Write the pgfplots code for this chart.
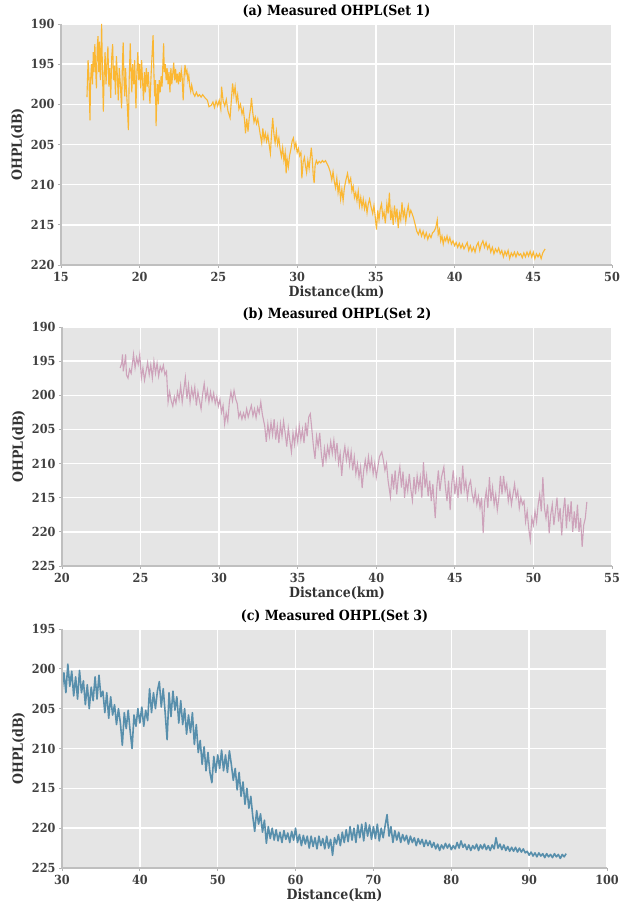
\documentclass[border=0pt]{standalone}
\usepackage{fontspec}
\setmainfont{DejaVu Serif Condensed}
\usepackage{pgfplots}
\pgfplotsset{compat=1.18}

\definecolor{setA}{RGB}{251,183,50}
\definecolor{setB}{RGB}{205,162,186}
\definecolor{setC}{RGB}{88,143,172}
\definecolor{tickgray}{RGB}{64,64,64}

\pgfplotsset{ohpl/.style={
  scale only axis, anchor=south west,
  y dir=reverse,
  axis background/.style={fill=gray!20},
  grid=major, major grid style={white, line width=1.5pt},
  axis line style={draw=none},
  tick align=outside, major tick length=3pt,
  tick style={gray!60, line width=0.8pt},
  xtick pos=left, ytick pos=left,
  /pgf/number format/assume math mode=true,
  /pgf/number format/1000 sep={},
  ticklabel style={font=\bfseries\fontsize{12.5}{14}\selectfont, text=tickgray},
  xticklabel style={yshift=-1pt},
  label style={font=\bfseries\fontsize{14}{16}\selectfont, text=black!80},
  xlabel style={yshift=3pt},
  title style={font=\bfseries\fontsize{14}{16}\selectfont, yshift=-3pt},
  xlabel={Distance(km)}, ylabel={OHPL(dB)},
  after end axis/.code={
    \draw[gray!50, line width=1.5pt] (axis description cs:0,1) -- (axis description cs:0,0) -- (axis description cs:1,0);
  },
}}

\begin{document}
\begin{tikzpicture}
\useasboundingbox (0,0) rectangle (630pt,909pt);

% (a)
\begin{axis}[ohpl, at={(61pt,644pt)}, width=551pt, height=241pt,
  title={(a) Measured OHPL(Set 1)},
  xmin=15, xmax=50, ymin=190, ymax=220,
  xtick={15,20,...,50}, ytick={190,195,...,220}]
\addplot[setA, line width=1.1pt] coordinates {
(16.65,199.1)(16.72,194.5)(16.78,196.8)(16.84,202.0)(16.88,197.0)(16.94,195.0)(17.00,197.5)(17.05,193.5)
(17.10,196.0)(17.15,192.5)(17.20,195.5)(17.25,198.0)(17.30,193.0)(17.35,191.5)(17.40,196.0)(17.45,192.2)
(17.50,197.0)(17.55,194.0)(17.58,190.0)(17.63,195.5)(17.69,200.9)(17.74,196.5)(17.80,193.5)(17.86,197.5)
(17.92,195.0)(17.98,192.8)(18.04,197.8)(18.10,195.5)(18.16,199.2)(18.22,194.2)(18.28,192.5)(18.34,197.0)
(18.40,195.2)(18.46,198.8)(18.52,194.0)(18.58,196.5)(18.64,199.5)(18.70,195.5)(18.76,197.2)(18.85,200.5)
(18.90,195.0)(18.95,192.3)(19.00,196.8)(19.05,199.0)(19.10,195.5)(19.15,198.0)(19.22,200.5)(19.28,203.2)
(19.33,197.0)(19.40,192.4)(19.45,196.0)(19.50,198.5)(19.55,195.0)(19.62,197.5)(19.68,194.5)(19.76,200.5)
(19.82,196.0)(19.88,193.5)(19.94,197.0)(20.00,195.0)(20.06,198.0)(20.12,194.5)(20.18,197.0)(20.24,199.5)
(20.30,196.0)(20.36,198.5)(20.42,195.5)(20.48,197.8)(20.54,196.0)(20.60,198.2)(20.65,199.9)(20.72,196.5)
(20.78,194.0)(20.85,191.4)(20.90,196.0)(20.95,199.0)(21.00,197.0)(21.04,202.7)(21.08,199.5)(21.13,197.5)
(21.18,200.0)(21.24,197.0)(21.30,198.5)(21.36,196.5)(21.42,197.8)(21.48,194.5)(21.52,192.4)(21.56,196.0)
(21.62,195.0)(21.68,197.0)(21.74,195.5)(21.80,197.5)(21.86,196.0)(21.92,198.5)(21.98,195.5)(22.04,197.5)
(22.10,196.2)(22.16,194.8)(22.22,197.0)(22.28,195.6)(22.34,197.3)(22.40,196.2)(22.46,197.5)(22.52,196.0)
(22.58,197.2)(22.64,195.8)(22.70,196.8)(22.76,199.5)(22.82,196.5)(22.88,195.1)(22.94,196.2)(23.00,195.8)
(23.06,197.0)(23.12,196.4)(23.18,197.8)(23.24,198.4)(23.30,197.6)(23.40,198.6)(23.50,199.0)(23.60,198.5)
(23.70,199.0)(23.80,198.8)(23.90,199.1)(24.00,198.8)(24.15,199.2)(24.30,199.5)(24.40,200.3)(24.55,200.1)
(24.65,199.7)(24.75,200.4)(24.85,199.6)(24.95,200.2)(25.05,199.5)(25.15,200.6)(25.20,197.8)(25.30,199.6)
(25.40,200.2)(25.50,199.4)(25.60,200.8)(25.74,201.7)(25.82,199.5)(25.90,197.4)(25.98,198.8)(26.06,197.8)
(26.14,199.6)(26.22,198.8)(26.30,200.6)(26.40,200.0)(26.50,201.2)(26.58,200.6)(26.66,202.0)(26.72,203.6)
(26.80,201.8)(26.88,203.4)(26.96,201.6)(27.04,200.5)(27.10,199.2)(27.18,201.0)(27.26,202.2)(27.34,201.6)
(27.42,202.4)(27.50,201.8)(27.58,202.8)(27.66,203.8)(27.75,204.8)(27.82,203.0)(27.90,204.4)(27.98,203.6)
(28.06,204.6)(28.14,203.8)(28.22,205.0)(28.30,206.1)(28.38,203.5)(28.45,201.7)(28.52,203.6)(28.60,204.8)
(28.68,203.4)(28.76,205.0)(28.84,204.2)(28.92,205.6)(29.00,206.5)(29.08,205.4)(29.16,207.0)(29.24,206.0)
(29.30,208.6)(29.36,206.8)(29.44,207.8)(29.52,206.4)(29.60,205.6)(29.68,204.6)(29.76,204.2)(29.84,205.4)
(29.92,204.8)(30.00,206.0)(30.08,205.5)(30.16,206.4)(30.24,206.0)(30.30,209.2)(30.38,207.2)(30.46,206.6)
(30.54,207.8)(30.60,208.5)(30.68,207.0)(30.76,208.0)(30.84,206.5)(30.90,205.4)(30.96,206.8)(31.02,208.8)
(31.08,209.8)(31.14,207.6)(31.22,207.0)(31.30,207.4)(31.40,207.1)(31.50,207.3)(31.60,207.0)(31.70,207.2)
(31.80,207.0)(31.90,207.4)(32.00,207.8)(32.10,208.4)(32.20,209.4)(32.28,208.4)(32.36,209.6)(32.44,210.4)
(32.52,209.2)(32.60,211.0)(32.68,210.0)(32.76,211.8)(32.84,210.6)(32.92,212.0)(33.00,210.4)(33.10,209.4)
(33.20,208.6)(33.30,209.8)(33.40,209.2)(33.48,210.8)(33.56,210.2)(33.64,211.6)(33.72,211.0)(33.80,212.0)
(33.88,210.8)(33.96,212.6)(34.04,211.6)(34.12,212.8)(34.20,211.8)(34.28,213.0)(34.36,212.2)(34.44,213.5)
(34.52,212.4)(34.60,211.8)(34.70,212.8)(34.80,213.6)(34.88,212.6)(34.96,214.0)(35.04,215.6)(35.12,213.2)
(35.20,214.4)(35.28,213.0)(35.36,212.4)(35.44,214.0)(35.52,213.4)(35.60,214.8)(35.70,212.4)(35.78,213.6)
(35.86,211.0)(35.94,214.4)(36.02,213.2)(36.10,215.0)(36.18,212.6)(36.26,214.2)(36.34,213.0)(36.42,215.4)
(36.50,213.6)(36.58,214.4)(36.66,212.2)(36.74,214.0)(36.82,213.2)(36.90,214.6)(36.98,213.4)(37.06,212.6)
(37.14,213.8)(37.22,213.2)(37.30,213.6)(37.40,214.2)(37.50,215.0)(37.60,215.8)(37.70,216.2)(37.80,215.6)
(37.90,216.4)(38.00,215.8)(38.10,216.6)(38.20,216.0)(38.30,216.8)(38.40,216.2)(38.50,216.6)(38.60,216.0)
(38.70,215.8)(38.80,215.4)(38.90,214.4)(38.96,216.2)(39.04,215.6)(39.12,217.0)(39.20,216.4)(39.28,217.4)
(39.36,216.6)(39.44,217.0)(39.52,216.4)(39.60,217.2)(39.70,216.6)(39.80,217.4)(39.90,217.0)(40.00,217.6)
(40.10,217.2)(40.20,217.8)(40.30,217.3)(40.40,217.9)(40.50,217.4)(40.60,218.0)(40.70,217.6)(40.80,217.2)
(40.90,218.2)(41.00,217.6)(41.10,218.3)(41.20,217.8)(41.30,218.4)(41.40,217.6)(41.50,217.2)(41.60,218.2)
(41.70,217.4)(41.80,217.0)(41.90,217.8)(42.00,217.2)(42.10,218.0)(42.20,217.5)(42.30,218.4)(42.40,217.8)
(42.50,218.6)(42.60,218.0)(42.70,218.4)(42.80,217.9)(42.90,218.6)(43.00,218.2)(43.10,219.0)(43.20,218.3)
(43.30,218.8)(43.40,218.2)(43.50,219.2)(43.60,218.5)(43.70,218.9)(43.80,218.4)(43.90,219.0)(44.00,218.4)
(44.10,218.8)(44.20,218.6)(44.30,219.1)(44.40,218.5)(44.50,219.0)(44.60,218.4)(44.70,218.9)(44.80,218.3)
(44.90,219.0)(45.00,218.4)(45.10,219.2)(45.20,218.6)(45.30,219.0)(45.40,218.6)(45.50,219.2)(45.60,218.5)
(45.75,218.0)};
\end{axis}

% (b)
\begin{axis}[ohpl, at={(62pt,343pt)}, width=550pt, height=239pt,
  title={(b) Measured OHPL(Set 2)},
  xmin=20, xmax=55, ymin=190, ymax=225,
  xtick={20,25,...,55}, ytick={190,195,...,225}]
\addplot[setB, line width=1.1pt] coordinates {
(23.70,196.0)(23.80,195.3)(23.85,194.0)(23.90,196.5)(24.00,195.0)(24.05,194.0)(24.10,197.0)(24.20,197.5)
(24.30,196.2)(24.40,196.8)(24.50,195.0)(24.55,194.0)(24.65,196.0)(24.75,194.5)(24.85,195.5)(24.95,194.0)
(25.05,197.5)(25.15,196.0)(25.25,197.8)(25.35,196.5)(25.45,195.2)(25.55,197.0)(25.65,195.5)(25.75,197.5)
(25.85,195.0)(25.95,196.8)(26.05,195.3)(26.15,197.2)(26.25,195.8)(26.35,196.5)(26.45,195.6)(26.55,197.0)
(26.65,196.5)(26.75,201.0)(26.85,199.5)(26.95,200.8)(27.05,201.6)(27.15,200.2)(27.25,201.2)(27.35,199.5)
(27.45,200.6)(27.55,198.6)(27.65,201.0)(27.75,199.2)(27.85,197.4)(27.95,200.5)(28.05,198.5)(28.15,201.0)
(28.25,199.0)(28.35,200.3)(28.45,198.8)(28.55,201.5)(28.65,199.5)(28.75,200.8)(28.85,202.0)(28.95,199.8)
(29.05,198.3)(29.15,200.5)(29.25,199.2)(29.35,201.0)(29.45,199.5)(29.55,200.8)(29.65,199.7)(29.75,201.2)
(29.85,200.2)(29.95,201.6)(30.05,200.6)(30.15,202.5)(30.25,201.5)(30.35,204.2)(30.45,202.6)(30.55,203.8)
(30.65,201.0)(30.75,199.5)(30.85,200.8)(30.95,199.3)(31.05,200.5)(31.15,201.2)(31.25,203.2)(31.35,202.5)
(31.45,203.5)(31.55,202.6)(31.65,203.4)(31.75,202.0)(31.85,203.2)(31.95,202.3)(32.05,201.5)(32.15,203.0)
(32.25,202.0)(32.35,203.3)(32.45,201.8)(32.55,202.6)(32.65,201.0)(32.75,202.8)(32.90,204.5)(33.00,206.8)
(33.10,204.2)(33.20,206.0)(33.30,204.0)(33.40,205.8)(33.50,203.5)(33.60,206.5)(33.70,204.5)(33.80,207.0)
(33.90,204.2)(34.00,206.0)(34.10,203.8)(34.20,205.5)(34.30,207.5)(34.40,204.8)(34.50,206.6)(34.60,208.3)
(34.70,205.5)(34.80,207.2)(34.90,205.0)(35.00,206.8)(35.10,204.5)(35.20,206.5)(35.30,205.0)(35.40,207.0)
(35.50,204.0)(35.60,206.0)(35.70,203.2)(35.80,202.7)(35.90,205.0)(36.00,207.5)(36.10,209.3)(36.20,206.0)
(36.30,207.5)(36.40,205.5)(36.50,208.5)(36.60,210.5)(36.70,207.8)(36.80,209.5)(36.90,207.5)(37.00,208.8)
(37.10,206.8)(37.20,208.5)(37.30,206.6)(37.40,209.0)(37.50,207.0)(37.60,210.0)(37.70,208.5)(37.80,211.8)
(37.90,209.0)(38.00,207.5)(38.10,209.5)(38.20,208.0)(38.30,210.2)(38.40,208.3)(38.50,211.0)(38.60,209.0)
(38.70,211.5)(38.80,210.0)(38.90,212.0)(39.00,210.5)(39.10,213.6)(39.20,211.0)(39.30,209.5)(39.40,211.2)
(39.50,209.0)(39.60,210.8)(39.70,209.3)(39.80,211.5)(39.90,210.0)(40.00,212.0)(40.10,210.5)(40.20,209.0)
(40.35,208.3)(40.45,209.5)(40.55,211.0)(40.65,210.0)(40.75,212.5)(40.90,214.9)(41.00,211.5)(41.10,213.8)
(41.20,211.0)(41.30,214.5)(41.40,212.0)(41.50,210.5)(41.60,213.5)(41.70,211.2)(41.80,215.0)(41.90,212.5)
(42.00,214.0)(42.10,211.5)(42.20,213.8)(42.30,215.4)(42.40,212.0)(42.50,214.5)(42.60,211.8)(42.70,213.6)
(42.80,212.0)(42.90,215.0)(43.00,209.8)(43.10,213.5)(43.20,211.8)(43.30,214.8)(43.40,212.5)(43.50,215.5)
(43.60,213.0)(43.75,218.0)(43.85,213.5)(43.95,211.0)(44.05,214.0)(44.15,212.0)(44.30,210.5)(44.40,213.5)
(44.50,215.5)(44.60,212.5)(44.70,216.8)(44.80,213.0)(44.90,211.0)(45.00,214.5)(45.10,212.5)(45.20,215.0)
(45.30,212.0)(45.40,214.5)(45.50,210.3)(45.60,213.8)(45.70,212.5)(45.80,215.0)(45.90,213.2)(46.00,212.5)
(46.10,214.5)(46.20,215.5)(46.30,214.0)(46.40,216.0)(46.50,214.8)(46.60,216.5)(46.70,215.0)(46.80,220.2)
(46.90,215.5)(47.00,214.0)(47.10,216.5)(47.20,212.0)(47.30,215.5)(47.40,213.5)(47.50,216.0)(47.60,214.5)
(47.70,216.8)(47.80,215.0)(47.90,211.8)(48.00,214.5)(48.10,211.8)(48.20,214.0)(48.30,213.0)(48.40,215.5)
(48.50,214.0)(48.60,216.0)(48.70,214.5)(48.80,213.0)(48.90,215.0)(49.00,214.0)(49.10,216.5)(49.20,215.0)
(49.30,216.0)(49.40,215.5)(49.50,218.5)(49.60,217.0)(49.70,219.5)(49.80,221.2)(49.90,218.0)(50.00,219.0)
(50.10,217.0)(50.20,218.5)(50.30,216.0)(50.40,214.5)(50.50,217.0)(50.60,212.0)(50.70,216.5)(50.80,218.0)
(50.90,216.0)(51.00,220.2)(51.10,217.5)(51.20,216.0)(51.30,219.0)(51.40,217.0)(51.50,215.0)(51.60,218.5)
(51.70,216.5)(51.80,220.5)(51.90,217.0)(52.00,215.0)(52.10,219.5)(52.20,216.0)(52.30,218.5)(52.40,215.5)
(52.50,220.0)(52.60,217.0)(52.70,219.5)(52.80,216.0)(52.90,220.0)(53.00,218.0)(53.10,222.2)(53.20,219.0)
(53.30,218.0)(53.40,215.6)};
\end{axis}

% (c)
\begin{axis}[ohpl, at={(62pt,41pt)}, width=545pt, height=239pt,
  title={(c) Measured OHPL(Set 3)},
  xmin=30, xmax=100, ymin=195, ymax=225,
  xtick={30,40,...,100}, ytick={195,200,...,225}]
\addplot[setC, line width=1.6pt, line join=round] coordinates {
(30.00,202.8)(30.25,200.5)(30.50,203.0)(30.75,199.4)(31.00,202.2)(31.25,200.3)(31.50,203.4)(31.75,201.0)
(32.00,203.8)(32.25,200.2)(32.50,203.0)(32.75,201.5)(33.00,204.5)(33.25,202.0)(33.50,205.0)(33.75,202.3)
(34.00,204.0)(34.25,201.0)(34.50,203.8)(34.75,200.8)(35.00,203.5)(35.25,202.8)(35.50,205.5)(35.75,203.0)
(36.00,206.2)(36.25,203.5)(36.50,205.8)(36.75,204.5)(37.00,207.0)(37.25,205.0)(37.50,206.8)(37.75,209.6)
(38.00,205.5)(38.25,207.5)(38.50,205.2)(38.75,207.8)(39.00,210.0)(39.25,205.8)(39.50,207.2)(39.75,205.0)
(40.00,206.8)(40.25,204.8)(40.50,207.2)(40.75,205.2)(41.00,206.5)(41.25,202.5)(41.50,205.5)(41.75,203.0)
(42.00,205.0)(42.25,202.8)(42.50,201.6)(42.75,204.8)(43.00,202.5)(43.25,205.5)(43.50,208.9)(43.75,203.0)
(44.00,206.0)(44.25,202.8)(44.50,205.2)(44.75,203.5)(45.00,206.8)(45.25,204.0)(45.50,207.0)(45.75,205.0)
(46.00,208.2)(46.25,205.8)(46.50,208.0)(46.75,205.5)(47.00,209.5)(47.25,207.0)(47.50,210.5)(47.75,209.0)
(48.00,212.0)(48.25,209.8)(48.50,212.8)(48.75,210.5)(49.00,213.0)(49.25,214.3)(49.50,211.0)(49.75,213.0)
(50.00,210.8)(50.25,212.5)(50.50,210.2)(50.75,212.8)(51.00,210.8)(51.25,213.0)(51.50,210.3)(51.75,212.0)
(52.00,214.0)(52.25,212.5)(52.50,215.2)(52.75,213.0)(53.00,216.0)(53.25,214.2)(53.50,217.0)(53.75,215.0)
(54.00,217.5)(54.25,216.0)(54.50,218.5)(54.75,220.4)(55.00,217.8)(55.25,219.5)(55.50,218.2)(55.75,220.5)
(56.00,219.0)(56.25,221.9)(56.50,219.8)(56.75,221.3)(57.00,220.0)(57.25,221.5)(57.50,220.2)(57.75,221.6)
(58.00,220.5)(58.25,221.8)(58.50,220.3)(58.75,221.4)(59.00,220.6)(59.25,221.8)(59.50,220.4)(59.75,221.5)
(60.00,220.0)(60.25,221.8)(60.50,220.8)(60.75,222.2)(61.00,220.9)(61.25,222.0)(61.50,221.0)(61.75,222.5)
(62.00,221.0)(62.25,222.3)(62.50,221.2)(62.75,222.6)(63.00,221.0)(63.25,222.2)(63.50,221.3)(63.75,222.6)
(64.00,221.0)(64.25,222.5)(64.50,221.4)(64.75,223.4)(65.00,221.2)(65.25,222.0)(65.50,220.8)(65.75,222.2)
(66.00,220.5)(66.25,221.8)(66.50,220.2)(66.75,221.7)(67.00,219.8)(67.25,221.5)(67.50,220.0)(67.75,221.8)
(68.00,219.6)(68.25,221.2)(68.50,219.5)(68.75,221.6)(69.00,219.3)(69.25,221.0)(69.50,219.6)(69.75,221.4)
(70.00,219.8)(70.25,221.3)(70.50,219.5)(70.75,221.6)(71.00,220.0)(71.25,221.2)(71.50,219.7)(71.75,218.3)
(72.00,221.0)(72.25,219.8)(72.50,221.8)(72.75,220.3)(73.00,221.5)(73.25,220.5)(73.50,221.8)(73.75,220.8)
(74.00,221.6)(74.25,220.9)(74.50,222.0)(74.75,221.0)(75.00,221.8)(75.25,221.2)(75.50,222.2)(75.75,221.3)
(76.00,222.0)(76.25,221.4)(76.50,222.3)(76.75,221.5)(77.00,222.2)(77.25,221.6)(77.50,222.4)(77.75,221.8)
(78.00,222.6)(78.25,222.0)(78.50,222.8)(78.75,222.1)(79.00,222.6)(79.25,221.9)(79.50,222.5)(79.75,222.0)
(80.00,222.7)(80.25,222.2)(80.50,222.6)(80.75,221.8)(81.00,222.5)(81.25,221.6)(81.50,222.4)(81.75,222.0)
(82.00,222.7)(82.25,222.1)(82.50,222.8)(82.75,222.2)(83.00,222.6)(83.25,222.0)(83.50,222.8)(83.75,222.1)
(84.00,222.6)(84.25,222.0)(84.50,222.7)(84.75,222.2)(85.00,222.8)(85.25,222.1)(85.50,222.6)(85.75,221.2)
(86.00,222.5)(86.25,222.0)(86.50,222.7)(86.75,222.1)(87.00,222.8)(87.25,222.3)(87.50,222.9)(87.75,222.4)
(88.00,222.9)(88.25,222.4)(88.50,223.0)(88.75,222.5)(89.00,223.0)(89.25,222.6)(89.50,223.1)(89.75,222.9)
(90.00,223.4)(90.25,223.0)(90.50,223.5)(90.75,223.1)(91.00,223.6)(91.25,223.1)(91.50,223.5)(91.75,223.2)
(92.00,223.7)(92.25,223.2)(92.50,223.6)(92.75,223.3)(93.00,223.7)(93.25,223.2)(93.50,223.6)(93.75,223.3)
(94.00,223.8)(94.25,223.3)(94.50,223.6)(94.75,223.2)};
\end{axis}
\end{tikzpicture}
\end{document}
